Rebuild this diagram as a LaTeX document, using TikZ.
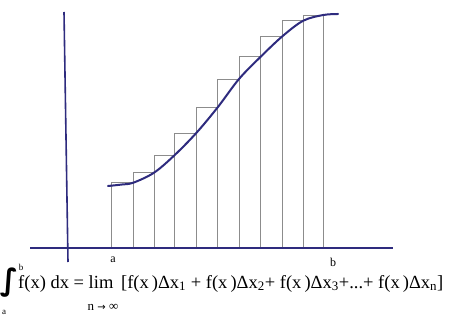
\documentclass[tikz,border=0pt]{standalone}
\usepackage{fontspec}
\setmainfont{Liberation Serif}
\newfontfamily\symfont{DejaVu Sans}
\definecolor{ink}{HTML}{2E2B7E}
\definecolor{rectgray}{HTML}{8C8C8C}
\begin{document}
\begin{tikzpicture}[x=1pt,y=-1pt,
  axisline/.style={draw=ink,line width=1.6pt},
  curveline/.style={draw=ink,line width=2pt,line cap=round},
  rectline/.style={draw=rectgray,line width=0.7pt},
  lbl/.style={inner sep=0pt,font=\fontsize{12}{12}\selectfont}]
\useasboundingbox (0,0) rectangle (454,320);
\fill[white] (0,0) rectangle (454,320);
% rectangles (upper sums)
\foreach \xa/\xb/\t in {111.7/133.3/182.7,133.3/154/172.7,154/174/155.7,174/196/133.3,196/217.7/107.3,217.7/239/79,239/260.7/56.7,260.7/282.7/36,282.7/303.3/20.7,303.3/323.3/15}
  \draw[rectline] (\xa,248) rectangle (\xb,\t);
% axes
\coordinate (xl) at (30,248);
\coordinate (xr) at (393,248);
\coordinate (yt) at (64,12);
\coordinate (yb) at (68,262);
\draw[axisline] (xl) -- (xr);
\draw[axisline] (yt) -- (yb);
% curve
\draw[curveline] plot[smooth,tension=0.55] coordinates {(108,186) (122,184.5) (133.3,182.7) (154,172.7) (174,155.7) (196,133.3) (217.7,107.3) (239,79) (260.7,56.7) (282.7,36) (303.3,20.7) (323.3,15) (338,14)};
% labels
\node[lbl] (la) at (113,260) {a};
\node[lbl] (lb) at (333,262) {b};
% formula
\node[inner sep=0pt,font=\symfont\bfseries\fontsize{30}{30}\selectfont] (int) at (9,283) {∫};
\node[inner sep=0pt,font=\fontsize{9}{9}\selectfont] (ub) at (21,267) {b};
\node[inner sep=0pt,font=\fontsize{9}{9}\selectfont] (lbnd) at (4,312) {a};
\node[anchor=base west,inner sep=0pt,font=\fontsize{18.5}{18.5}\selectfont] (eq) at (18,288)
  {f(x) dx = lim \,[f(x\,)Δx\textsubscript{1} + f(x\,)Δx\textsubscript{2}+ f(x\,)Δx\textsubscript{3}+...+ f(x\,)Δx\textsubscript{n}]};
\node[inner sep=0pt,font=\fontsize{13}{13}\selectfont] (lim) at (103,307) {n {\symfont\fontsize{10}{10}\selectfont →} ∞};
\end{tikzpicture}
\end{document}
